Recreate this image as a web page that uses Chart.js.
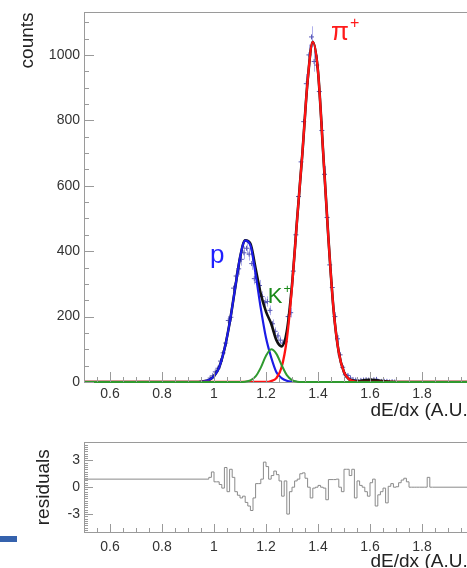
<!DOCTYPE html>
<html>
<head>
<meta charset="utf-8">
<script src="https://cdn.jsdelivr.net/npm/chart.js@4/dist/chart.umd.min.js"></script>
<style>
  html, body { margin: 0; padding: 0; background: #fff; overflow: hidden; }
  #wrap { position: relative; width: 467px; height: 568px; overflow: hidden; }
  #top { position: absolute; left: 0; top: 0; }
  #bottom { position: absolute; left: 0; top: 430px; }
  #mark { position: absolute; left: 0; top: 536px; width: 17px; height: 6px; background: #3562ad; }
</style>
</head>
<body>
<div id="wrap">
  <canvas id="top" width="490" height="430"></canvas>
  <canvas id="bottom" width="490" height="150"></canvas>
  <div id="mark"></div>
</div>
<script>
// histogram (bin width 0.01, first bin centre 0.985)
const binStart = 0.98;
const binWidth = 0.01;
const counts = [12, 19, 31, 42, 64, 89, 119, 188, 198, 287, 324, 346, 375, 395, 409, 391, 362, 316, 305, 295,
  261, 243, 246, 219, 178, 155, 141, 128, 119, 123, 200, 212, 339, 450, 567, 673, 796, 912, 1000, 1055,
  980, 969, 888, 769, 635, 503, 358, 289, 200, 132, 83, 45, 22, 20, 12, 7, 6, 1, 5, 6,
  7, 6, 4, 7, 8, 1, 2, 2, 2, 0, 1, 0];

// residuals per bin (same binning)
const residuals = [0.9, 1.1, 1.7, 0.6, 0.6, 0.3, -0.1, 2.2, -0.5, 2.0,
  1.1, -0.5, -0.9, -1.2, -1.0, -1.7, -2.1, -2.6, -1.2, 0.4,
  0.4, 0.9, 2.8, 2.3, 0.9, 1.3, 1.8, 1.4, 0.7, -1.0,
  0.7, -3.0, -0.5, 0.0, 0.7, 0.9, 1.5, 1.6, 1.0, 0.0,
  -1.2, -0.1, 0.0, 0.2, 0.0, -0.1, -1.4, 0.85, 0.85, 0.85,
  0.9, 0.0, -0.5, 2.0, 2.0, 1.3, 2.0, -1.2, 0.7, 0.2,
  0.0, -0.5, -1.0, 0.5, 0.9, -2.1, -0.85, -0.5, -0.1, -1.75,
  0.1, 0.4, 0.0, 0.05, 0.5, 0.8, 1.0, 0.6, 0, 0,
  0, 0, 0, 0, 0, 1.1];

// fit curves
const fitX = [0.5, 0.9, 0.92, 0.94, 0.96, 0.98, 1.0, 1.02, 1.04, 1.06, 1.08, 1.1, 1.12, 1.14, 1.16, 1.18,
  1.2, 1.22, 1.24, 1.26, 1.28, 1.3, 1.32, 1.34, 1.36, 1.38, 1.4, 1.42, 1.44, 1.46, 1.48, 1.5,
  1.52, 1.54, 1.56, 1.58, 1.6, 1.62, 1.64, 1.66, 1.68, 1.7, 2.0];
const fitTotal = [0, 0, 0, 0, 2, 6, 18, 45, 100, 180, 280, 380, 433, 423, 347, 269,
  215, 178, 128, 109, 155, 297, 501, 700, 920, 1040, 950, 700, 440, 220, 90, 30,
  8, 4, 3, 6, 7, 6, 4, 2, 1, 0, 0];
const fitP = [0, 0, 0, 0, 2, 6, 18, 45, 100, 180, 280, 380, 432, 418, 330, 225,
  135, 75, 30, 12, 4, 1, 0, 0, 0, 0, 0, 0, 0, 0, 0, 0,
  0, 0, 0, 0, 0, 0, 0, 0, 0, 0, 0];
const fitK = [0, 0, 0, 0, 0, 0, 0, 0, 0, 0, 0, 0, 1, 5, 17, 44,
  80, 100, 86, 52, 21, 6, 1, 0, 0, 0, 0, 0, 0, 0, 0, 0,
  0, 0, 0, 0, 0, 0, 0, 0, 0, 0, 0];
const fitPi = [0, 0, 0, 0, 0, 0, 0, 0, 0, 0, 0, 0, 0, 0, 0, 0,
  0, 3, 12, 45, 130, 290, 500, 700, 920, 1040, 950, 700, 440, 220, 90, 30,
  8, 2, 0, 0, 0, 0, 0, 0, 0, 0, 0];

const FONT = '"Liberation Sans", Arial, sans-serif';
const AXIS = '#9a9a9a';

const pts = (xs, ys) => xs.map((x, i) => ({ x: x, y: ys[i] }));

// frame top line + ROOT style inward ticks
const frameTicks = {
  id: 'frameTicks',
  afterDraw(chart, args, opts) {
    const { ctx, chartArea: a, scales } = chart;
    ctx.save();
    ctx.strokeStyle = AXIS;
    ctx.lineWidth = 1;
    ctx.beginPath();
    ctx.moveTo(a.left, Math.round(a.top) + 0.5);
    ctx.lineTo(a.right, Math.round(a.top) + 0.5);
    for (const key of ['x', 'y']) {
      const s = scales[key], o = opts[key];
      const n0 = Math.ceil(s.min / o.minor - 1e-9);
      const n1 = Math.floor(s.max / o.minor + 1e-9);
      for (let i = n0; i <= n1; i++) {
        const v = i * o.minor;
        const r = v / o.major;
        const len = Math.abs(r - Math.round(r)) < 1e-6 ? o.majorLen : o.minorLen;
        const p = Math.round(s.getPixelForValue(v)) + 0.5;
        if (key === 'x') { ctx.moveTo(p, a.bottom); ctx.lineTo(p, a.bottom - len); }
        else { ctx.moveTo(a.left, p); ctx.lineTo(a.left + len, p); }
      }
    }
    ctx.stroke();
    ctx.restore();
  }
};

// poisson error bars on the histogram points
const errorBars = {
  id: 'errorBars',
  beforeDatasetsDraw(chart) {
    const { ctx, scales: { y } } = chart;
    const ds = chart.data.datasets.findIndex(d => d.id === 'data');
    const meta = chart.getDatasetMeta(ds);
    ctx.save();
    ctx.strokeStyle = 'rgba(150,150,230,0.75)';
    ctx.lineWidth = 1;
    ctx.beginPath();
    meta.data.forEach((el, i) => {
      const v = chart.data.datasets[ds].data[i].y;
      const e = Math.sqrt(v);
      const px = Math.round(el.x) + 0.5;
      ctx.moveTo(px, y.getPixelForValue(v - e));
      ctx.lineTo(px, y.getPixelForValue(v + e));
    });
    ctx.stroke();
    ctx.restore();
  }
};

const peakLabels = {
  id: 'peakLabels',
  afterDatasetsDraw(chart, args, opts) {
    const { ctx, scales: { x, y } } = chart;
    ctx.save();
    ctx.textAlign = 'left';
    ctx.textBaseline = 'alphabetic';
    for (const l of opts.items) {
      const px = x.getPixelForValue(l.x), py = y.getPixelForValue(l.y);
      ctx.fillStyle = l.color;
      ctx.font = l.size + 'px ' + FONT;
      ctx.fillText(l.text, px, py);
      if (l.sup) {
        const w = ctx.measureText(l.text).width;
        ctx.font = Math.round(l.size * 0.6) + 'px ' + FONT;
        ctx.fillText(l.sup, px + w + 1, py - l.size * 0.45);
      }
    }
    ctx.restore();
  }
};

const tickFont = { family: FONT, size: 14 };
const titleFont = { family: FONT, size: 19 };
const fmt = v => String(Math.round(v * 100) / 100);

const xScale = (labelPad, titlePad) => ({
  type: 'linear', min: 0.5, max: 2.0,
  grid: { drawOnChartArea: false, drawTicks: false },
  border: { display: true, color: AXIS },
  ticks: { stepSize: 0.2, includeBounds: false, autoSkip: false, maxRotation: 0,
    padding: labelPad, color: '#333', font: tickFont, callback: fmt },
  title: { display: true, text: 'dE/dx (A.U.)', align: 'end', color: '#222', font: titleFont,
    padding: { top: 0, bottom: titlePad } },
  afterFit: s => { s.height = 48; },
});

Chart.defaults.font.family = FONT;

new Chart(document.getElementById('top'), {
  type: 'line',
  data: {
    datasets: [
      { label: 'K+', data: pts(fitX, fitK), borderColor: '#2f9a2f', borderWidth: 2,
        pointRadius: 0, cubicInterpolationMode: 'monotone',
        clip: { left: 0, top: 0, right: 0, bottom: false } },
      { label: 'pi+', data: pts(fitX, fitPi), borderColor: '#ff1212', borderWidth: 2.3,
        pointRadius: 0, cubicInterpolationMode: 'monotone' },
      { label: 'p', data: pts(fitX, fitP), borderColor: '#1c1ce6', borderWidth: 2.2,
        pointRadius: 0, cubicInterpolationMode: 'monotone' },
      { label: 'total', data: pts(fitX, fitTotal), borderColor: '#111', borderWidth: 2.6,
        pointRadius: 0, cubicInterpolationMode: 'monotone' },
      { id: 'data', label: 'data', data: counts.map((c, i) => ({ x: binStart + binWidth * (i + 0.5), y: c })),
        showLine: false, pointStyle: 'cross', pointRadius: 2.5, pointBorderWidth: 1,
        pointBorderColor: '#5a5ab8' },
    ]
  },
  options: {
    responsive: false, animation: false, devicePixelRatio: 1,
    layout: { padding: { left: 0, top: 9, right: 16, bottom: 0 } },
    plugins: {
      legend: { display: false }, tooltip: { enabled: false },
      frameTicks: {
        x: { minor: 0.05, major: 0.2, minorLen: 5, majorLen: 10 },
        y: { minor: 50, major: 200, minorLen: 5, majorLen: 10 },
      },
      peakLabels: { items: [
        { text: 'p', x: 0.985, y: 364, size: 26, color: '#1f1fff' },
        { text: 'K', sup: '+', x: 1.207, y: 243, size: 22, color: '#1a8a1a' },
        { text: 'π', sup: '+', x: 1.450, y: 1046, size: 26, color: '#ff1a1a' },
      ] },
    },
    scales: {
      x: xScale(4, 8),
      y: {
        type: 'linear', min: 0, max: 1130,
        grid: { drawOnChartArea: false, drawTicks: false },
        border: { display: true, color: AXIS },
        ticks: { stepSize: 200, includeBounds: false, padding: 4, color: '#333', font: tickFont, callback: fmt },
        title: { display: true, text: 'counts', align: 'end', color: '#222', font: titleFont,
          padding: { top: 16, bottom: 0 } },
        afterFit: s => { s.width = 84; },
      },
    },
  },
  plugins: [frameTicks, errorBars, peakLabels],
});

const residPts = [{ x: 0.5, y: 0 }]
  .concat(residuals.map((r, i) => ({ x: binStart + binWidth * i, y: r })))
  .concat([{ x: binStart + binWidth * residuals.length, y: 0 }, { x: 2.0, y: 0 }]);

new Chart(document.getElementById('bottom'), {
  type: 'line',
  data: {
    datasets: [
      { label: 'residuals', data: residPts, stepped: 'after', borderColor: '#8a8a8a',
        borderWidth: 1, pointRadius: 0 },
    ]
  },
  options: {
    responsive: false, animation: false, devicePixelRatio: 1,
    layout: { padding: { left: 0, top: 10, right: 16, bottom: 0 } },
    plugins: {
      legend: { display: false }, tooltip: { enabled: false },
      frameTicks: {
        x: { minor: 0.05, major: 0.2, minorLen: 4, majorLen: 8 },
        y: { minor: 0.25, major: 3, minorLen: 4, majorLen: 9 },
      },
    },
    scales: {
      x: xScale(7, 7),
      y: {
        type: 'linear', min: -5, max: 5,
        grid: { drawOnChartArea: false, drawTicks: false },
        border: { display: true, color: AXIS },
        ticks: { stepSize: 3, includeBounds: false, padding: 4, color: '#333', font: tickFont, callback: fmt },
        title: { display: true, text: 'residuals', align: 'center', color: '#222', font: titleFont,
          padding: { top: 32, bottom: 0 } },
        afterFit: s => { s.width = 84; },
      },
    },
  },
  plugins: [frameTicks],
});
</script>
</body>
</html>
